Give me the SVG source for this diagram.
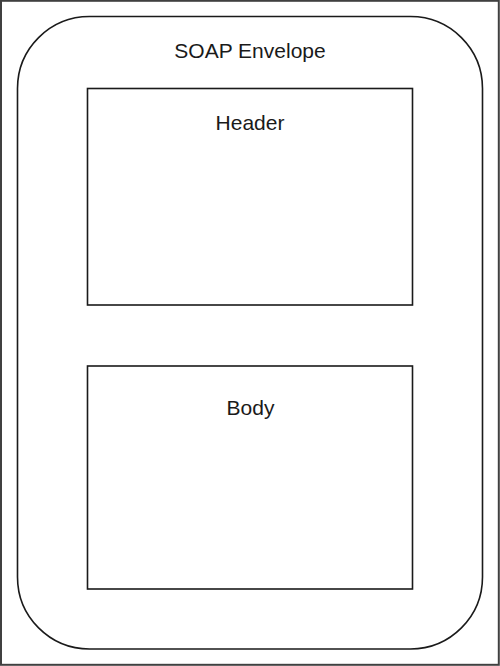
<svg xmlns="http://www.w3.org/2000/svg" width="500" height="666" viewBox="0 0 500 666">
  <style>
    .frame { fill: none; stroke: #404040; stroke-width: 2; }
    .shape { fill: none; stroke: #1a1a1a; stroke-width: 1.6; }
    .label { font-family: "Liberation Sans", Arial, sans-serif; font-size: 21px; fill: #1a1a1a; text-anchor: middle; }
  </style>
  <rect x="0" y="0" width="500" height="666" fill="#ffffff"/>
  <rect class="frame" x="1" y="0.8" width="497.8" height="664"/>
  <g id="envelope">
    <rect class="shape" x="17.5" y="16.5" width="465" height="632.5" rx="72" ry="72"/>
    <text class="label" x="250" y="58">SOAP Envelope</text>
  </g>
  <g id="header">
    <rect class="shape" x="87.5" y="88.5" width="325" height="216.5"/>
    <text class="label" x="250" y="130">Header</text>
  </g>
  <g id="body">
    <rect class="shape" x="87.5" y="366" width="325" height="223"/>
    <text class="label" x="250.5" y="415">Body</text>
  </g>
  <g id="connectors"/>
</svg>
